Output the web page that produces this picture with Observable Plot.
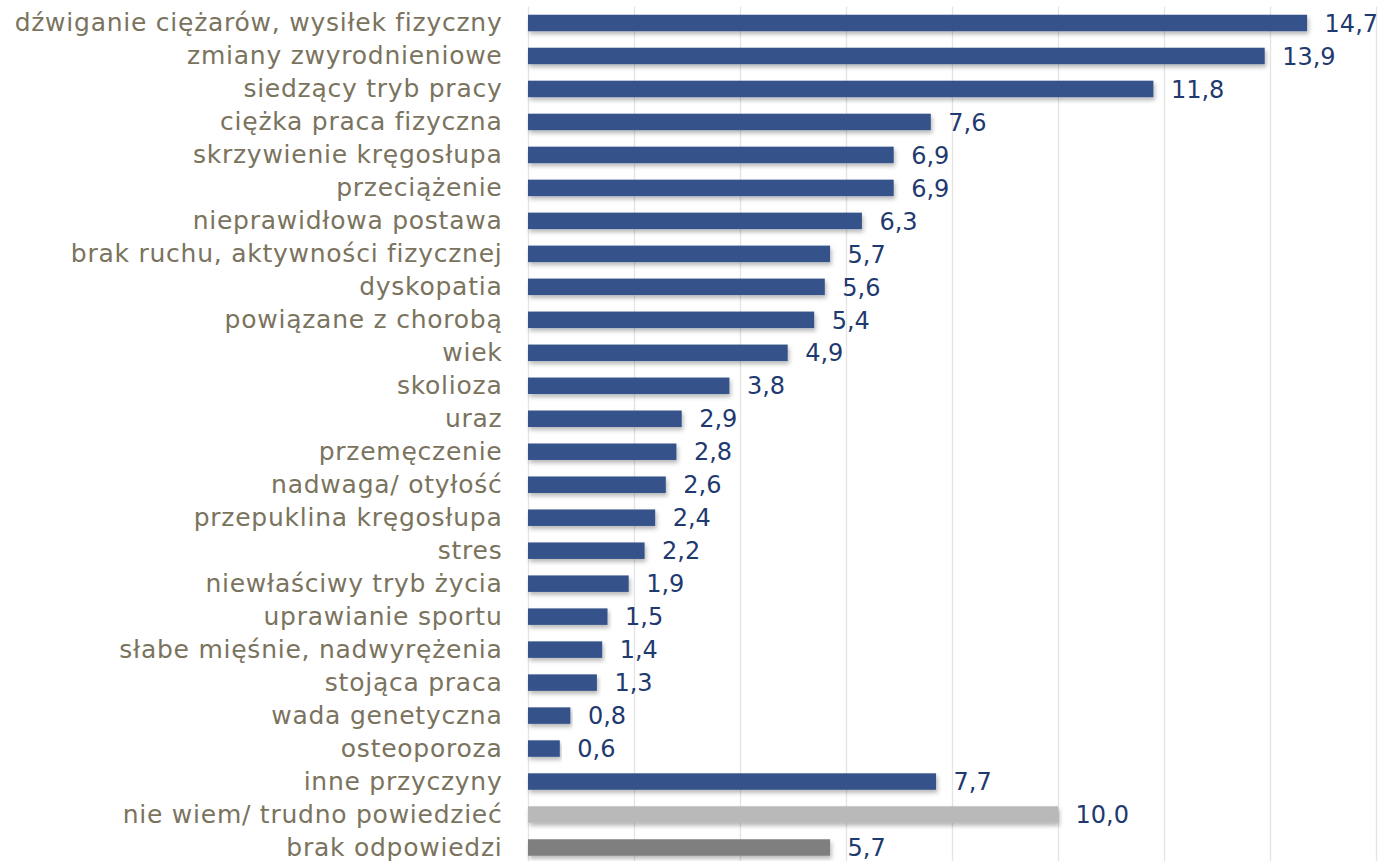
<!DOCTYPE html>
<html>
<head>
<meta charset="utf-8">
<script src="https://cdn.jsdelivr.net/npm/d3@7"></script>
<script src="https://cdn.jsdelivr.net/npm/@observablehq/plot@0.6"></script>
<style>
  html, body { margin: 0; padding: 0; background: #fff; }
  #chart { width: 1384px; height: 861px; overflow: hidden; }
  #chart g[aria-label='y-axis tick label'] text { letter-spacing: 0.75px; }
</style>
</head>
<body>
<div id="chart"></div>
<script>
const categories = [
  "dźwiganie ciężarów, wysiłek fizyczny",
  "zmiany zwyrodnieniowe",
  "siedzący tryb pracy",
  "ciężka praca fizyczna",
  "skrzywienie kręgosłupa",
  "przeciążenie",
  "nieprawidłowa postawa",
  "brak ruchu, aktywności fizycznej",
  "dyskopatia",
  "powiązane z chorobą",
  "wiek",
  "skolioza",
  "uraz",
  "przemęczenie",
  "nadwaga/ otyłość",
  "przepuklina kręgosłupa",
  "stres",
  "niewłaściwy tryb życia",
  "uprawianie sportu",
  "słabe mięśnie, nadwyrężenia",
  "stojąca praca",
  "wada genetyczna",
  "osteoporoza",
  "inne przyczyny",
  "nie wiem/ trudno powiedzieć",
  "brak odpowiedzi"
];
const values = [14.7, 13.9, 11.8, 7.6, 6.9, 6.9, 6.3, 5.7, 5.6, 5.4, 4.9, 3.8, 2.9, 2.8, 2.6, 2.4, 2.2, 1.9, 1.5, 1.4, 1.3, 0.8, 0.6, 7.7, 10.0, 5.7];
const groups = ["cause","cause","cause","cause","cause","cause","cause","cause","cause","cause","cause","cause","cause","cause","cause","cause","cause","cause","cause","cause","cause","cause","cause","cause","dontknow","noanswer"];
const gridTicks = [0, 2, 4, 6, 8, 10, 12, 14, 16];

const data = categories.map((c, i) => ({category: c, value: values[i], group: groups[i]}));
const fmt = v => v.toFixed(1).replace(".", ",");

const fontFamily = "'DejaVu Sans', sans-serif";

const chart = Plot.plot({
  width: 1384,
  height: 861,
  marginLeft: 528,
  marginRight: 8,
  marginTop: 6.5,
  marginBottom: -3,
  style: {fontFamily, background: "#fff"},
  x: {domain: [0, 16], axis: null},
  y: {domain: categories, round: false, paddingInner: 0.5, paddingOuter: 0.25, label: null, tickSize: 0, tickPadding: 26},
  color: {domain: ["cause", "dontknow", "noanswer"], range: ["#34538a", "#b9b9b9", "#7f7f7f"]},
  marks: [
    Plot.ruleX(gridTicks, {stroke: "#e4e4e4", strokeWidth: 1.3}),
    Plot.barX(data, {x: "value", y: "category", fill: "group"}),
    Plot.text(data, {x: "value", y: "category", text: d => fmt(d.value), textAnchor: "start", dx: 17, dy: 0.5, fill: "#1f3a6f", fontSize: 24}),
    Plot.axisY({tickSize: 0, tickPadding: 26, fontSize: 25, dy: 0, fill: "#7a735e", label: null})
  ]
});

const svg = d3.select(chart);
const defs = svg.insert("defs", ":first-child");
const f = defs.append("filter").attr("id", "shadow").attr("x", "-5%").attr("y", "-30%").attr("width", "110%").attr("height", "190%");
f.append("feDropShadow").attr("dx", 1.5).attr("dy", 3).attr("stdDeviation", 2).attr("flood-color", "#000").attr("flood-opacity", 0.28);
svg.selectAll("g[aria-label='bar'] rect").attr("filter", "url(#shadow)");

document.getElementById("chart").appendChild(chart);
</script>
</body>
</html>
